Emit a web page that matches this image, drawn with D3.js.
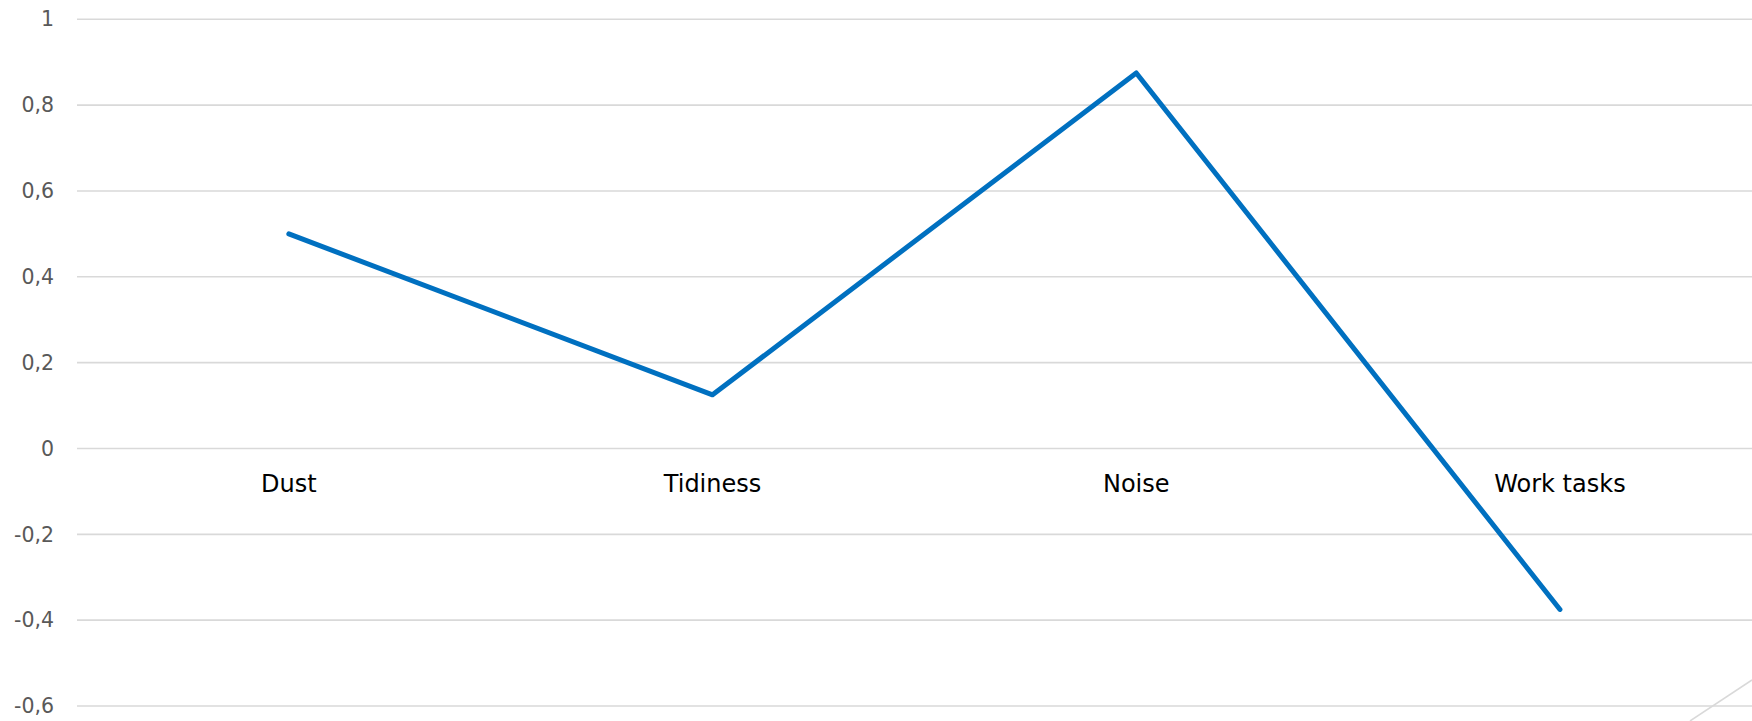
<!DOCTYPE html>
<html>
<head>
<meta charset="utf-8">
<script src="https://cdn.jsdelivr.net/npm/d3@7"></script>
<style>
  body { margin: 0; background: #fff; overflow: hidden; }
  svg { display: block; }
</style>
</head>
<body>
<script>
// data
const categories = ['Dust', 'Tidiness', 'Noise', 'Work tasks'];
const values = [0.5, 0.125, 0.875, -0.375];
const yTicks = [1, 0.8, 0.6, 0.4, 0.2, 0, -0.2, -0.4, -0.6];

const width = 1752;
const height = 721;

const svg = d3.select('body').append('svg').attr('width', width).attr('height', height);

// plot area
const left = 77;
const bandW = 423.7;
const x = d3.scalePoint()
    .domain(categories)
    .range([left + bandW / 2, left + bandW * 3.5]);

const y = d3.scaleLinear().domain([-0.6, 1]).range([706, 19.3]);

// gridlines
svg.append('g')
.selectAll('line')
.data(yTicks)
.join('line')
    .attr('x1', left)
    .attr('x2', width)
    .attr('y1', (d) => y(d))
    .attr('y2', (d) => y(d))
    .attr('stroke', '#d9d9d9')
    .attr('stroke-width', 1.6);

// y tick labels
svg.append('g')
.selectAll('text')
.data(yTicks)
.join('text')
    .attr('x', 54)
    .attr('y', (d) => y(d))
    .attr('dy', '0.35em')
    .attr('text-anchor', 'end')
    .attr('font-family', 'DejaVu Sans')
    .attr('font-size', 20.5)
    .attr('fill', '#595959')
    .text((d) => String(d).replace('.', ','));

// category labels
svg.append('g')
.selectAll('text')
.data(categories)
.join('text')
    .attr('x', (d) => x(d))
    .attr('y', y(0) + 44)
    .attr('text-anchor', 'middle')
    .attr('font-family', 'DejaVu Sans')
    .attr('font-size', 24)
    .attr('fill', '#000')
    .text((d) => d);

// series line
const line = d3.line()
    .x((d, i) => x(categories[i]))
    .y((d) => y(d));

svg.append('path')
    .datum(values)
    .attr('d', line)
    .attr('fill', 'none')
    .attr('stroke', '#0070c0')
    .attr('stroke-width', 5)
    .attr('stroke-linecap', 'round')
    .attr('stroke-linejoin', 'round');

// decorative corner stroke from the slide
svg.append('line')
    .attr('x1', 1690).attr('y1', 721)
    .attr('x2', 1752).attr('y2', 680)
    .attr('stroke', '#d9d9d9')
    .attr('stroke-width', 1.5);
</script>
</body>
</html>
